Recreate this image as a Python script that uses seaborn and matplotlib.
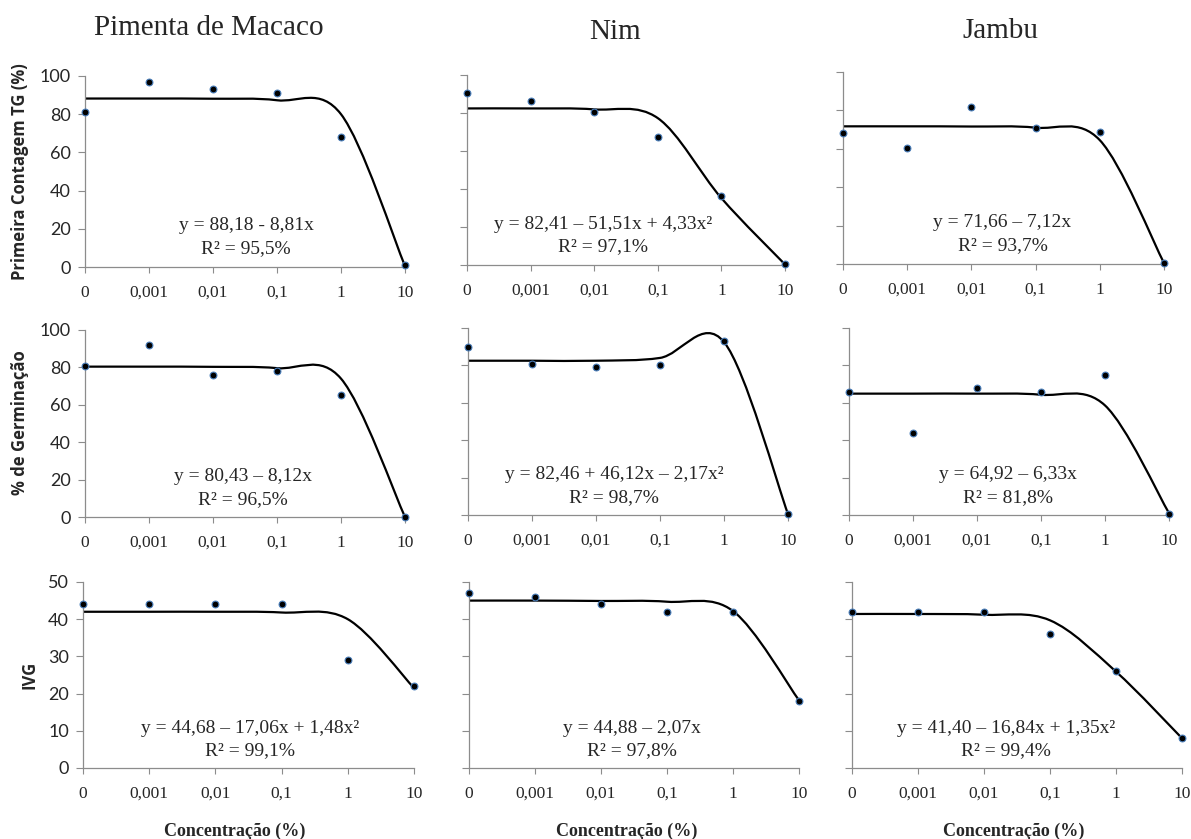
import numpy as np
import pandas as pd
import matplotlib
matplotlib.use('Agg')
import matplotlib.pyplot as plt
import seaborn as sns
from matplotlib.path import Path
from matplotlib.patches import PathPatch

# Categories on the x axis (plotted at equal spacing)
concentrations = ['0', '0,001', '0,01', '0,1', '1', '10']
species = ['Pimenta de Macaco', 'Nim', 'Jambu']
variables = ['Primeira Contagem TG (%)', '% de Germinação', 'IVG']

# Observed means (points)
pc_pimenta = [81, 97, 93, 91, 68, 1]
pc_nim = [90.5, 86.5, 80.5, 67.5, 36.5, 0.5]
pc_jambu = [68, 60.5, 82, 71, 69, 0.5]
germ_pimenta = [81, 92, 76, 78, 65, 0]
germ_nim = [90, 81, 79, 80, 93, 0.5]
germ_jambu = [66, 44, 68, 66, 75, 0.5]
ivg_pimenta = [44, 44, 44, 44, 29, 22]
ivg_nim = [47, 46, 44, 42, 42, 18]
ivg_jambu = [42, 42, 42, 36, 26, 8]

# Fitted regression curve, read at each concentration
fit_pc_pimenta = [88.2, 88.2, 88.1, 87.3, 80, 0.5]
fit_pc_nim = [82.4, 82.4, 81.9, 77.3, 35.2, 0.3]
fit_pc_jambu = [71.7, 71.7, 71.6, 71.0, 64.5, 0.5]
fit_germ_pimenta = [80.4, 80.4, 80.3, 79.6, 74, 0]
fit_germ_nim = [82.5, 82.5, 82.5, 84, 92.5, 0.5]
fit_germ_jambu = [64.9, 64.9, 64.9, 64.3, 58.6, 1]
fit_ivg_pimenta = [42, 42, 42, 41.8, 40, 21.5]
fit_ivg_nim = [45, 45, 44.9, 44.7, 42.2, 18.2]
fit_ivg_jambu = [41.4, 41.4, 41.2, 39.7, 25.9, 8.0]

equations = [
    ['y = 88,18 - 8,81x', 'y = 82,41 \u2013 51,51x + 4,33x\u00b2', 'y = 71,66 \u2013 7,12x'],
    ['y = 80,43 \u2013 8,12x', 'y = 82,46 + 46,12x \u2013 2,17x\u00b2', 'y = 64,92 \u2013 6,33x'],
    ['y = 44,68 \u2013 17,06x + 1,48x\u00b2', 'y = 44,88 \u2013 2,07x', 'y = 41,40 \u2013 16,84x + 1,35x\u00b2'],
]
r2_labels = [
    ['R\u00b2 = 95,5%', 'R\u00b2 = 97,1%', 'R\u00b2 = 93,7%'],
    ['R\u00b2 = 96,5%', 'R\u00b2 = 98,7%', 'R\u00b2 = 81,8%'],
    ['R\u00b2 = 99,1%', 'R\u00b2 = 97,8%', 'R\u00b2 = 99,4%'],
]

observed = [[pc_pimenta, pc_nim, pc_jambu],
            [germ_pimenta, germ_nim, germ_jambu],
            [ivg_pimenta, ivg_nim, ivg_jambu]]
fitted = [[fit_pc_pimenta, fit_pc_nim, fit_pc_jambu],
          [fit_germ_pimenta, fit_germ_nim, fit_germ_jambu],
          [fit_ivg_pimenta, fit_ivg_nim, fit_ivg_jambu]]

sns.set_style('ticks')
plt.rcParams['font.family'] = ['Liberation Serif', 'DejaVu Serif']

W, H = 1191, 839
fig = plt.figure(figsize=(W / 100, H / 100), dpi=100)

# panel boxes in pixels: (left, right, top, bottom)
boxes = [
    [(85, 405, 76, 267), (467, 785, 75, 265), (843, 1164, 72, 264)],
    [(85, 405, 330, 517), (468, 788, 328, 515), (849, 1169, 328, 515)],
    [(83, 414, 582, 768), (469, 799, 582, 768), (852, 1182, 582, 768)],
]
ymax = [100, 100, 50]
ystep = [20, 20, 10]
eq_x = [[0.503, 0.428, 0.497], [0.494, 0.456, 0.497], [0.504, 0.494, 0.467]]

spine_col = '#8c8c8c'


def smooth_path(xs, ys):
    # Excel-like smoothed line: Catmull-Rom as cubic Bezier segments
    pts = list(zip(xs, ys))
    n = len(pts)
    verts = [pts[0]]
    codes = [Path.MOVETO]
    for i in range(n - 1):
        p0 = pts[i - 1] if i > 0 else pts[i]
        p1, p2 = pts[i], pts[i + 1]
        p3 = pts[i + 2] if i + 2 < n else pts[i + 1]
        c1 = (p1[0] + (p2[0] - p0[0]) / 6, p1[1] + (p2[1] - p0[1]) / 6)
        c2 = (p2[0] - (p3[0] - p1[0]) / 6, p2[1] - (p3[1] - p1[1]) / 6)
        verts += [c1, c2, p2]
        codes += [Path.CURVE4] * 3
    return Path(verts, codes)


pos = np.arange(len(concentrations))
for r in range(3):
    for c in range(3):
        l, rt, t, b = boxes[r][c]
        ax = fig.add_axes([l / W, 1 - b / H, (rt - l) / W, (b - t) / H])
        df = pd.DataFrame({'pos': pos, 'obs': observed[r][c]})

        patch = PathPatch(smooth_path(pos, fitted[r][c]), facecolor='none',
                          edgecolor='black', lw=1.6, zorder=2)
        ax.add_patch(patch)
        sns.scatterplot(data=df, x='pos', y='obs', ax=ax, color='black',
                        edgecolor='#4a7ebb', s=24, linewidth=0.8, zorder=3,
                        clip_on=False, legend=False)

        ax.set_xlim(0, len(concentrations) - 1)
        ax.set_ylim(0, ymax[r])
        ax.set_xticks(pos)
        ax.set_xticklabels(concentrations, fontsize=12.5)
        ax.set_yticks(np.arange(0, ymax[r] + 1, ystep[r]))
        if c == 0:
            ax.set_yticklabels([str(v) for v in range(0, ymax[r] + 1, ystep[r])],
                               fontsize=13, family=['Lato', 'DejaVu Sans'])
        else:
            ax.set_yticklabels([])
        ax.set_xlabel('')
        ax.set_ylabel('')
        ax.tick_params(axis='x', length=4, width=0.8, color=spine_col, pad=9)
        ax.tick_params(axis='y', length=5, width=0.8, color=spine_col, pad=5)
        sns.despine(ax=ax)
        for side in ['left', 'bottom']:
            ax.spines[side].set_color(spine_col)
            ax.spines[side].set_linewidth(0.9)

        ax.text(eq_x[r][c], 0.215, equations[r][c], transform=ax.transAxes,
                ha='center', va='center', fontsize=14)
        ax.text(eq_x[r][c], 0.095, r2_labels[r][c], transform=ax.transAxes,
                ha='center', va='center', fontsize=14)

# column titles
title_x = [209, 615, 1000]
title_y = [28, 32, 31]
for name, tx, ty in zip(species, title_x, title_y):
    fig.text(tx / W, 1 - ty / H, name, ha='center', va='center', fontsize=21)

# row labels
ylab_x = [20, 20, 29]
ylab_y = [172, 423, 675]
for name, lx, ly in zip(variables, ylab_x, ylab_y):
    fig.text(lx / W, 1 - ly / H, name, rotation=90, ha='center', va='center',
             fontsize=12, fontweight='bold', family=['Open Sans', 'DejaVu Sans'])

# x axis titles under the bottom row
for cx in [235, 627, 1014]:
    fig.text(cx / W, 1 - 831 / H, 'Concentração (%)', ha='center', va='center',
             fontsize=13, fontweight='bold')

fig.savefig('out.png', dpi=100)
